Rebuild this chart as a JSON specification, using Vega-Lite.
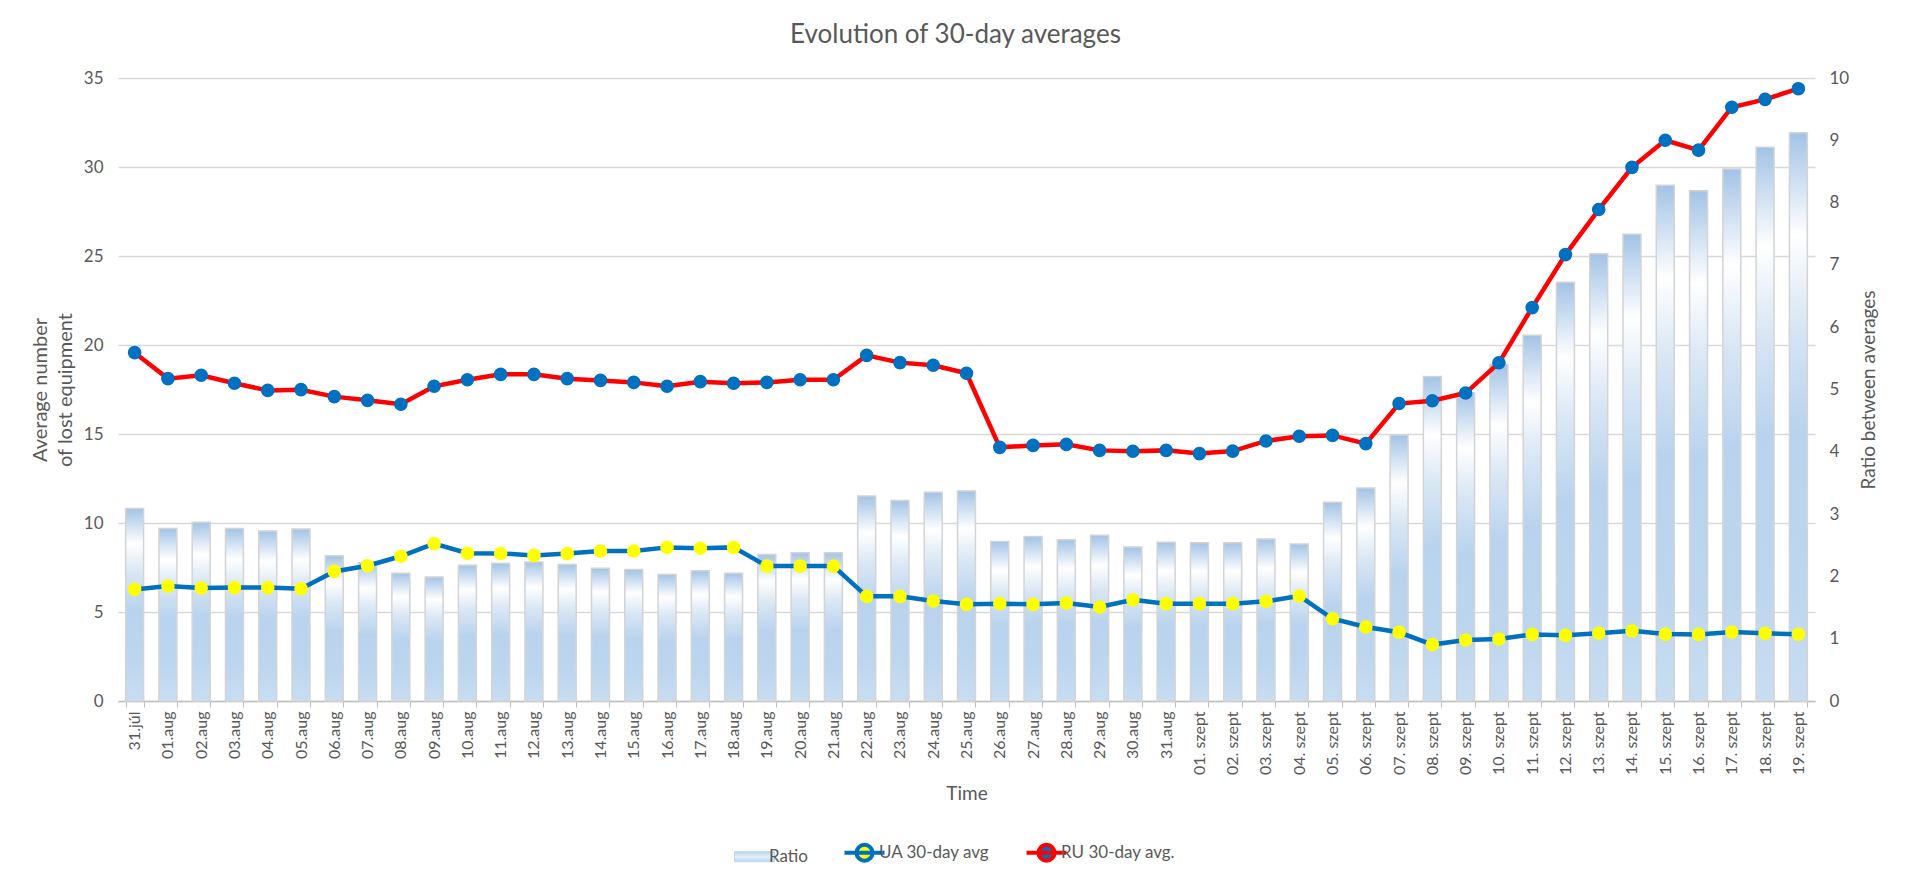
{
  "$schema": "https://vega.github.io/schema/vega-lite/v6.json",
  "autosize": {"type": "none"},
  "padding": {"left": 118, "top": 78, "right": 94, "bottom": 182},
  "width": 1697,
  "height": 623,
  "background": "#ffffff",
  "title": {
    "text": "Evolution of 30-day averages",
    "fontSize": 26,
    "font": "Lato",
    "fontWeight": "normal",
    "color": "#595959",
    "anchor": "middle",
    "frame": "group",
    "baseline": "alphabetic",
    "offset": 0,
    "dx": -11
  },
  "data": {
    "values": [
      {"d": "31.júl", "ru": 19.57, "ua": 6.27, "ratio": 3.09},
      {"d": "01.aug", "ru": 18.11, "ua": 6.46, "ratio": 2.77},
      {"d": "02.aug", "ru": 18.30, "ua": 6.35, "ratio": 2.87},
      {"d": "03.aug", "ru": 17.85, "ua": 6.37, "ratio": 2.77},
      {"d": "04.aug", "ru": 17.45, "ua": 6.37, "ratio": 2.73},
      {"d": "05.aug", "ru": 17.49, "ua": 6.31, "ratio": 2.76},
      {"d": "06.aug", "ru": 17.10, "ua": 7.28, "ratio": 2.33},
      {"d": "07.aug", "ru": 16.89, "ua": 7.60, "ratio": 2.22},
      {"d": "08.aug", "ru": 16.67, "ua": 8.13, "ratio": 2.05},
      {"d": "09.aug", "ru": 17.68, "ua": 8.84, "ratio": 1.99},
      {"d": "10.aug", "ru": 18.05, "ua": 8.30, "ratio": 2.18},
      {"d": "11.aug", "ru": 18.35, "ua": 8.29, "ratio": 2.21},
      {"d": "12.aug", "ru": 18.35, "ua": 8.18, "ratio": 2.23},
      {"d": "13.aug", "ru": 18.11, "ua": 8.28, "ratio": 2.19},
      {"d": "14.aug", "ru": 18.01, "ua": 8.43, "ratio": 2.13},
      {"d": "15.aug", "ru": 17.90, "ua": 8.43, "ratio": 2.11},
      {"d": "16.aug", "ru": 17.68, "ua": 8.63, "ratio": 2.03},
      {"d": "17.aug", "ru": 17.94, "ua": 8.58, "ratio": 2.09},
      {"d": "18.aug", "ru": 17.85, "ua": 8.63, "ratio": 2.05},
      {"d": "19.aug", "ru": 17.90, "ua": 7.58, "ratio": 2.35},
      {"d": "20.aug", "ru": 18.05, "ua": 7.58, "ratio": 2.38},
      {"d": "21.aug", "ru": 18.05, "ua": 7.58, "ratio": 2.38},
      {"d": "22.aug", "ru": 19.42, "ua": 5.88, "ratio": 3.29},
      {"d": "23.aug", "ru": 19.01, "ua": 5.88, "ratio": 3.22},
      {"d": "24.aug", "ru": 18.86, "ua": 5.62, "ratio": 3.35},
      {"d": "25.aug", "ru": 18.41, "ua": 5.43, "ratio": 3.37},
      {"d": "26.aug", "ru": 14.25, "ua": 5.47, "ratio": 2.56},
      {"d": "27.aug", "ru": 14.36, "ua": 5.43, "ratio": 2.64},
      {"d": "28.aug", "ru": 14.42, "ua": 5.51, "ratio": 2.59},
      {"d": "29.aug", "ru": 14.08, "ua": 5.28, "ratio": 2.66},
      {"d": "30.aug", "ru": 14.03, "ua": 5.69, "ratio": 2.47},
      {"d": "31.aug", "ru": 14.08, "ua": 5.47, "ratio": 2.55},
      {"d": "01. szept", "ru": 13.90, "ua": 5.47, "ratio": 2.54},
      {"d": "02. szept", "ru": 14.04, "ua": 5.47, "ratio": 2.54},
      {"d": "03. szept", "ru": 14.61, "ua": 5.60, "ratio": 2.60},
      {"d": "04. szept", "ru": 14.87, "ua": 5.90, "ratio": 2.52},
      {"d": "05. szept", "ru": 14.92, "ua": 4.62, "ratio": 3.19},
      {"d": "06. szept", "ru": 14.46, "ua": 4.16, "ratio": 3.42},
      {"d": "07. szept", "ru": 16.71, "ua": 3.86, "ratio": 4.27},
      {"d": "08. szept", "ru": 16.87, "ua": 3.17, "ratio": 5.21},
      {"d": "09. szept", "ru": 17.30, "ua": 3.43, "ratio": 4.95},
      {"d": "10. szept", "ru": 19.00, "ua": 3.48, "ratio": 5.40},
      {"d": "11. szept", "ru": 22.10, "ua": 3.74, "ratio": 5.87},
      {"d": "12. szept", "ru": 25.08, "ua": 3.69, "ratio": 6.72},
      {"d": "13. szept", "ru": 27.61, "ua": 3.81, "ratio": 7.18},
      {"d": "14. szept", "ru": 29.98, "ua": 3.95, "ratio": 7.49},
      {"d": "15. szept", "ru": 31.50, "ua": 3.76, "ratio": 8.28},
      {"d": "16. szept", "ru": 30.95, "ua": 3.74, "ratio": 8.19},
      {"d": "17. szept", "ru": 33.36, "ua": 3.88, "ratio": 8.54},
      {"d": "18. szept", "ru": 33.80, "ua": 3.80, "ratio": 8.89},
      {"d": "19. szept", "ru": 34.40, "ua": 3.75, "ratio": 9.12}
    ]
  },
  "encoding": {
    "x": {
      "field": "d",
      "type": "nominal",
      "sort": null,
      "scale": {"paddingInner": 0.46, "paddingOuter": 0.23},
      "axis": {
        "title": "Time",
        "labelAngle": -90,
        "labelFontSize": 16,
        "labelColor": "#595959",
        "labelPadding": 4,
        "tickBand": "extent",
        "tickSize": 6,
        "tickColor": "#bfbfbf",
        "domainColor": "#bfbfbf",
        "domainWidth": 1.5,
        "titleFontSize": 19,
        "titleColor": "#595959",
        "titleFontWeight": "normal",
        "titlePadding": 10,
        "grid": false
      }
    }
  },
  "layer": [
    {
      "mark": {
        "type": "bar",
        "stroke": "#d4d4d4",
        "strokeWidth": 1.5,
        "fill": {
          "gradient": "linear",
          "x1": 0, "y1": 0, "x2": 0, "y2": 1,
          "stops": [
            {"offset": 0, "color": "#a2c3e6"},
            {"offset": 0.18, "color": "#ffffff"},
            {"offset": 0.32, "color": "#dbe8f5"},
            {"offset": 0.52, "color": "#b9d3ee"},
            {"offset": 0.8, "color": "#bdd6ef"},
            {"offset": 1, "color": "#c8ddf1"}
          ]
        }
      },
      "encoding": {
        "y": {
          "field": "ratio",
          "type": "quantitative",
          "scale": {"domain": [0, 10]},
          "axis": {
            "orient": "right",
            "title": "Ratio between averages",
            "titleAngle": -90,
            "values": [0, 1, 2, 3, 4, 5, 6, 7, 8, 9, 10],
            "domain": false,
            "ticks": false,
            "grid": false,
            "labelFontSize": 17,
            "labelColor": "#595959",
            "labelPadding": 14,
            "titleFontSize": 19,
            "titleColor": "#595959",
            "titleFontWeight": "normal",
            "titlePadding": 30
          }
        }
      }
    },
    {
      "transform": [{"fold": ["ua", "ru"], "as": ["series", "value"]}],
      "encoding": {
        "y": {
          "field": "value",
          "type": "quantitative",
          "scale": {"domain": [0, 35]},
          "axis": {
            "orient": "left",
            "title": ["Average number", "of lost equipment"],
            "titleLineHeight": 25,
            "values": [0, 5, 10, 15, 20, 25, 30, 35],
            "domain": false,
            "ticks": false,
            "grid": true,
            "gridColor": "#d9d9d9",
            "gridWidth": 1.5,
            "labelFontSize": 17,
            "labelColor": "#595959",
            "labelPadding": 15,
            "titleFontSize": 20,
            "titleColor": "#595959",
            "titleFontWeight": "normal",
            "titlePadding": 8
          }
        }
      },
      "layer": [
        {
          "mark": {"type": "line", "strokeWidth": 4.5},
          "encoding": {
            "stroke": {
              "field": "series",
              "type": "nominal",
              "scale": {"domain": ["ratio", "ua", "ru"], "range": ["#bdd7ee", "#0070c0", "#ff0000"]},
              "legend": {
                "orient": "none",
                "legendX": 628,
                "legendY": 766,
                "direction": "horizontal",
                "title": null,
                "symbolSize": 1600,
                "labelFontSize": 17,
                "labelColor": "#595959",
                "labelOffset": 6,
                "columnPadding": 28,
                "labelExpr": "datum.label === 'ratio' ? 'Ratio' : datum.label === 'ua' ? 'UA 30-day avg' : 'RU 30-day avg.'",
                "encode": {
                  "symbols": {
                    "update": {
                      "shape": {"signal": "datum.value === 'ratio' ? 'M-1,-0.25H1V0.25H-1Z' : 'M-1,0H1M0.4,0A0.4,0.4,0,1,1,-0.4,0A0.4,0.4,0,1,1,0.4,0Z'"},
                      "fill": {"signal": "datum.value === 'ratio' ? {gradient: 'linear', x1: 0, y1: 0, x2: 0, y2: 1, stops: [{offset: 0, color: '#bcd5ee'}, {offset: 0.5, color: '#e3eef8'}, {offset: 1, color: '#bcd5ee'}]} : datum.value === 'ua' ? '#ffff00' : '#0070c0'"},
                      "stroke": {"signal": "datum.value === 'ratio' ? '#d4d4d4' : datum.value === 'ua' ? '#0070c0' : '#ff0000'"},
                      "strokeWidth": {"signal": "datum.value === 'ratio' ? 1 : 4"},
                      "opacity": {"value": 1},
                      "fillOpacity": {"value": 1}
                    }
                  }
                }
              }
            }
          }
        },
        {
          "mark": {"type": "circle", "size": 185, "opacity": 1},
          "encoding": {
            "fill": {
              "field": "series",
              "type": "nominal",
              "scale": {"domain": ["ua", "ru"], "range": ["#ffff00", "#0070c0"]},
              "legend": null
            }
          }
        }
      ]
    }
  ],
  "resolve": {"scale": {"y": "independent"}},
  "config": {
    "font": "Lato",
    "view": {"stroke": null}
  }
}
